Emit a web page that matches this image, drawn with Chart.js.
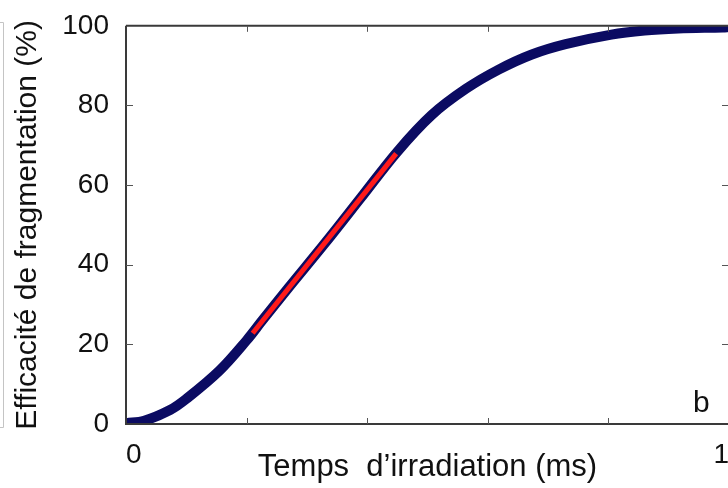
<!DOCTYPE html>
<html>
<head>
<meta charset="utf-8">
<script src="https://cdn.jsdelivr.net/npm/chart.js@4"></script>
<style>
html,body{margin:0;padding:0;background:#fff;overflow:hidden;}
#wrap{width:728px;height:488px;overflow:hidden;position:relative;}
canvas{display:block;}
</style>
</head>
<body>
<div id="wrap"><canvas id="c" width="735" height="488"></canvas></div>
<script>
// Data
const timeMs     = [0, 0.03, 0.073, 0.1, 0.155, 0.2, 0.226, 0.27, 0.33, 0.39, 0.45, 0.507, 0.564, 0.618, 0.673, 0.729, 0.805, 0.86, 0.916, 0.99, 1.0];
const efficiency = [0.2, 0.8, 3.5, 6.3, 13.4, 21, 26, 34.3, 45.4, 56.9, 68.4, 77.6, 84.2, 89, 92.8, 95.4, 97.8, 98.8, 99.3, 99.6, 99.7];
const fitX = [0.21, 0.448];
const fitY = [22.8, 67.9];
const xTickLabels = {0: '0', 1: '1'};
const yTicks = [0, 20, 40, 60, 80, 100];
const panelLetter = 'b';

const FONT = "'Liberation Sans', Arial, Helvetica, sans-serif";

const framePlugin = {
  id: 'frame',
  beforeDraw(chart) {
    const ctx = chart.ctx;
    ctx.save();
    ctx.strokeStyle = '#c4c4c4';
    ctx.lineWidth = 1;
    ctx.beginPath();
    ctx.moveTo(0, 22.5); ctx.lineTo(3.5, 22.5); ctx.lineTo(3.5, 427.5); ctx.lineTo(0, 427.5);
    ctx.stroke();
    ctx.restore();
  },
  afterDatasetsDraw(chart) {
    const {ctx, chartArea: a, scales} = chart;
    ctx.save();
    ctx.strokeStyle = '#3a3a3a';
    ctx.lineWidth = 2;
    ctx.beginPath();
    ctx.moveTo(a.left, a.top); ctx.lineTo(a.right, a.top);
    ctx.moveTo(a.left, a.top); ctx.lineTo(a.left, a.bottom); ctx.lineTo(a.right, a.bottom);
    ctx.lineTo(a.right, a.top);
    ctx.stroke();
    ctx.strokeStyle = '#555';
    ctx.lineWidth = 1;
    ctx.beginPath();
    scales.x.ticks.forEach(t => {
      if (t.value <= 0 || t.value >= 1) return;
      const px = Math.round(scales.x.getPixelForValue(t.value)) + 0.5;
      ctx.moveTo(px, a.bottom); ctx.lineTo(px, a.bottom - 6);
      ctx.moveTo(px, a.top); ctx.lineTo(px, a.top + 6);
    });
    scales.y.ticks.forEach(t => {
      if (t.value <= 0 || t.value >= 100) return;
      const py = Math.round(scales.y.getPixelForValue(t.value)) + 0.5;
      ctx.moveTo(a.left, py); ctx.lineTo(a.left + 7, py);
      ctx.moveTo(a.right, py); ctx.lineTo(a.right - 7, py);
    });
    ctx.stroke();
    ctx.fillStyle = '#111';
    ctx.font = '30px ' + FONT;
    ctx.textAlign = 'center';
    ctx.textBaseline = 'alphabetic';
    ctx.fillText(panelLetter, scales.x.getPixelForValue(0.954), scales.y.getPixelForValue(3));
    ctx.restore();
  }
};

new Chart(document.getElementById('c'), {
  type: 'line',
  data: {
    datasets: [
      {
        data: fitX.map((x, i) => ({x, y: fitY[i]})),
        borderColor: '#ff1a1a',
        borderWidth: 5,
        borderCapStyle: 'butt',
        pointRadius: 0,
        tension: 0,
        order: 0
      },
      {
        data: timeMs.map((x, i) => ({x, y: efficiency[i]})),
        borderColor: '#0b0b62',
        borderWidth: 10,
        pointRadius: 0,
        tension: 0.35,
        clip: 0,
        order: 1
      }
    ]
  },
  options: {
    responsive: false,
    animation: false,
    layout: {padding: {top: 25, right: 4, left: 0, bottom: 0}},
    plugins: {legend: {display: false}, tooltip: {enabled: false}},
    scales: {
      x: {
        type: 'linear', min: 0, max: 1,
        grid: {display: false}, border: {display: false},
        afterFit: s => { s.height = 64; },
        ticks: {
          stepSize: 0.2, align: 'inner', padding: 6, maxRotation: 0, autoSkip: false,
          color: '#111', font: {family: FONT, size: 28},
          callback: v => (xTickLabels[v] !== undefined ? xTickLabels[v] : '')
        },
        title: {display: true, text: 'Temps  d’irradiation (ms)', color: '#111',
                font: {family: FONT, size: 31}, padding: {top: 0, bottom: 2}}
      },
      y: {
        min: 0, max: 100,
        grid: {display: false}, border: {display: false},
        afterFit: s => { s.width = 126; },
        afterBuildTicks: s => { s.ticks = yTicks.map(v => ({value: v})); },
        ticks: {padding: 9, color: '#111', font: {family: FONT, size: 28}},
        title: {display: true, text: 'Efficacité de fragmentation (%)', color: '#111',
                font: {family: FONT, size: 30}, padding: {top: 10, bottom: 0}}
      }
    }
  },
  plugins: [framePlugin]
});
</script>
</body>
</html>
